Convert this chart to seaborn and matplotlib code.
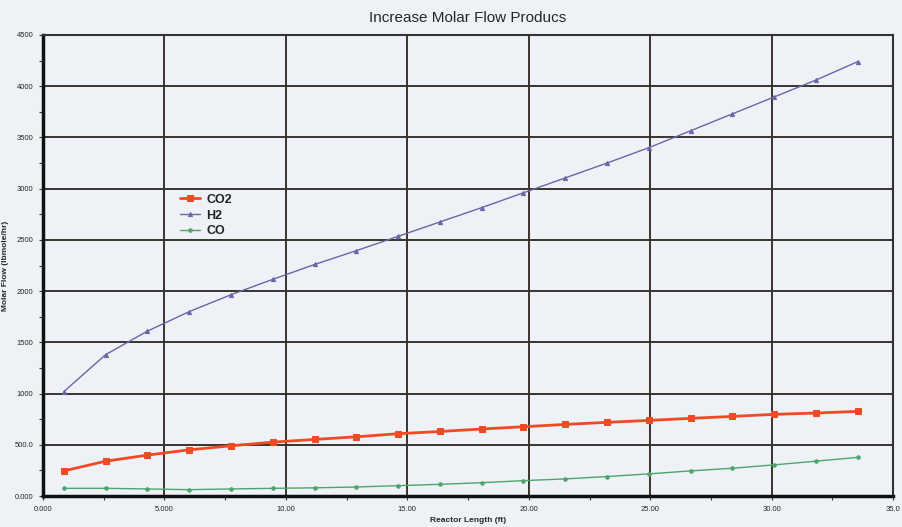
import matplotlib
matplotlib.use('Agg')
import matplotlib.pyplot as plt
import pandas as pd
import seaborn as sns
from matplotlib.ticker import MultipleLocator, FixedLocator, FixedFormatter

sns.set_style('white')
plt.rcParams['font.family'] = ['Liberation Sans', 'DejaVu Sans']

# Datos
reactor_length = [0.86, 2.58, 4.30, 6.02, 7.74, 9.46, 11.18, 12.90, 14.62, 16.34,
                  18.06, 19.78, 21.50, 23.22, 24.94, 26.66, 28.38, 30.10, 31.82, 33.54]
co2_flow = [245, 340, 399, 451, 490, 526, 552, 578, 608, 630,
            654, 676, 699, 719, 738, 758, 777, 797, 810, 826]
h2_flow = [1020, 1380, 1610, 1800, 1965, 2115, 2260, 2395, 2535, 2675,
           2815, 2960, 3105, 3250, 3400, 3565, 3730, 3895, 4060, 4240]
co_flow = [75, 75, 69, 62, 69, 75, 80, 88, 101, 114,
           130, 150, 167, 190, 216, 245, 271, 304, 340, 377]

x_ticks = [0, 5, 10, 15, 20, 25, 30, 35]
x_labels = ['0.000', '5.000', '10.00', '15.00', '20.00', '25.00', '30.00', '35.0']
y_ticks = [0, 500, 1000, 1500, 2000, 2500, 3000, 3500, 4000, 4500]
y_labels = ['0.000', '500.0', '1000', '1500', '2000', '2500', '3000', '3500', '4000', '4500']

df = pd.DataFrame({'length': reactor_length, 'CO2': co2_flow,
                   'H2': h2_flow, 'CO': co_flow})

bg = '#eef2f7'
fig = plt.figure(figsize=(9.02, 5.27), dpi=100, facecolor=bg)
ax = fig.add_axes([0.0477, 0.0588, 0.9425, 0.8748])
ax.set_facecolor(bg)

sns.lineplot(data=df, x='length', y='CO2', ax=ax, color='#f04a24', lw=2.0,
             marker='s', markersize=3.8, markeredgecolor='#f04a24', label='CO2')
sns.lineplot(data=df, x='length', y='H2', ax=ax, color='#6a66a6', lw=1.0,
             marker='^', markersize=3, markeredgecolor='#6a66a6', label='H2')
sns.lineplot(data=df, x='length', y='CO', ax=ax, color='#4ea56c', lw=1.0,
             marker='o', markersize=2.5, markeredgecolor='#4ea56c', label='CO')

ax.set_xlim(0, 35)
ax.set_ylim(0, 4500)
ax.xaxis.set_major_locator(FixedLocator(x_ticks))
ax.xaxis.set_major_formatter(FixedFormatter(x_labels))
ax.yaxis.set_major_locator(FixedLocator(y_ticks))
ax.yaxis.set_major_formatter(FixedFormatter(y_labels))
ax.xaxis.set_minor_locator(MultipleLocator(2.5))
ax.yaxis.set_minor_locator(MultipleLocator(250))
ax.tick_params(which='major', direction='out', length=3, width=0.8,
               labelsize=5.5, color='#333333', pad=4)
ax.tick_params(which='minor', direction='out', length=3, width=0.8, color='#333333')
ax.tick_params(axis='both', which='both', bottom=True, left=True)

ax.grid(True, which='major', color='#3a332d', lw=1.4)
ax.set_axisbelow(True)
for side in ['top', 'right']:
    ax.spines[side].set_color('#333333')
    ax.spines[side].set_linewidth(1.5)
for side in ['left', 'bottom']:
    ax.spines[side].set_color('#111111')
    ax.spines[side].set_linewidth(2.5)

ax.set_title('Increase Molar Flow Producs', fontsize=11, pad=9)
ax.set_xlabel('Reactor Length (ft)', fontsize=6, fontweight='bold', labelpad=3)
ax.set_ylabel('Molar Flow (lbmole/hr)', fontsize=6, fontweight='bold', labelpad=4)

leg = ax.legend(loc='upper left', bbox_to_anchor=(0.148, 0.68), frameon=False,
                handlelength=1.6, handletextpad=0.5, labelspacing=0.3,
                prop={'size': 9, 'weight': 'bold'})
for txt in leg.get_texts():
    txt.set_color('#222222')

fig.savefig('out.png', dpi=100, facecolor=bg)
